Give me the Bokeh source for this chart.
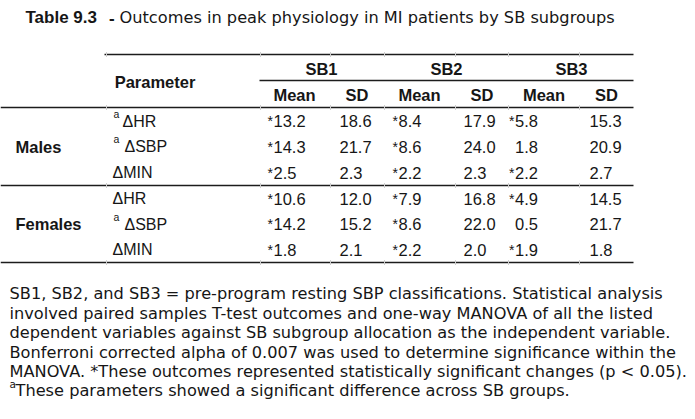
from bokeh.plotting import figure
from bokeh.models import Range1d, ColumnDataSource
from bokeh.core.properties import value
from bokeh.embed import file_html
from bokeh.resources import INLINE

# ---------------- data ----------------
title_bold = "Table 9.3"
title_dash = "-"
title_rest = "Outcomes in peak physiology in MI patients by SB subgroups"
param_header = "Parameter"
sb_headers = ["SB1", "SB2", "SB3"]
stat_headers = ["Mean", "SD"]
groups = ["Males", "Females"]
params = ["\u0394HR", "\u0394SBP", "\u0394MIN", "\u0394HR", "\u0394SBP", "\u0394MIN"]
param_sup = ["a", "a", "", "", "a", ""]
sb1_mean = ["*13.2", "*14.3", "*2.5", "*10.6", "*14.2", "*1.8"]
sb1_sd = ["18.6", "21.7", "2.3", "12.0", "15.2", "2.1"]
sb2_mean = ["*8.4", "*8.6", "*2.2", "*7.9", "*8.6", "*2.2"]
sb2_sd = ["17.9", "24.0", "2.3", "16.8", "22.0", "2.0"]
sb3_mean = ["*5.8", "1.8", "*2.2", "*4.9", "0.5", "*1.9"]
sb3_sd = ["15.3", "20.9", "2.7", "14.5", "21.7", "1.8"]
footnote_lines = [
    "SB1, SB2, and SB3 = pre-program resting SBP classifications. Statistical analysis",
    "involved paired samples T-test outcomes and one-way MANOVA of all the listed",
    "dependent variables against SB subgroup allocation as the independent variable.",
    "Bonferroni corrected alpha of 0.007 was used to determine significance within the",
    "MANOVA. *These outcomes represented statistically significant changes (p < 0.05).",
]
footnote_sup = "a"
footnote_last = "These parameters showed a significant difference across SB groups."

# ---------------- layout ----------------
ARIAL = "Liberation Sans"
WIDE = "DejaVu Sans"
INK = "#161616"
W, H = 695, 419
p = figure(width=W, height=H, x_range=Range1d(0, W), y_range=Range1d(H, 0),
           output_backend="svg", toolbar_location=None, min_border=0,
           x_axis_location=None, y_axis_location=None)
p.grid.visible = False
p.outline_line_color = None
p.background_fill_color = "white"
p.border_fill_color = "white"

YOFF = -5.5


def txt(xs, ys, texts, size, bold=False, align="left", font=ARIAL):
    src = ColumnDataSource(dict(x=list(xs), y=[y + YOFF for y in ys], t=list(texts)))
    p.text(x="x", y="y", text="t", source=src, text_font=value(font),
           text_font_size=f"{size}px", text_font_style="bold" if bold else "normal",
           text_align=align, text_baseline="alphabetic", text_color=INK)


def base(center, size, capr=0.358):
    return center + capr * size

# title
txt([25], [base(17, 16.5)], [title_bold], 17, bold=True)
txt([108.5], [base(17, 16.5)], [title_dash], 17, bold=True)
txt([119], [base(17, 16.2, 0.3645)], [title_rest], 16.2, font=WIDE)

# rules
L = 633
hx0 = [104, 259, 0, 0, 0]
hy = [54, 80, 107, 185, 262]
p.segment(x0=hx0, y0=hy, x1=[L] * 5, y1=hy, line_color="#1c1c1c", line_width=1.4)

# small cell-border ticks
tick_x = [106, 260, 330, 384, 455, 508, 579]
tx, ty0, ty1 = [], [], []
for yy in [54, 107, 185, 262]:
    for xx in tick_x:
        tx.append(xx); ty0.append(yy - 2.5); ty1.append(yy + 2.5)
p.segment(x0=tx, y0=ty0, x1=tx, y1=ty1, line_color="#cfcfcf", line_width=1)

# header
HS = 16.5
txt([154.5], [base(81, HS)], [param_header], HS, bold=True, align="center")
txt([321, 446, 571], [base(68, HS)] * 3, sb_headers, HS, bold=True, align="center")
txt([294, 356.5, 419, 481.5, 543.5, 606], [base(94, HS)] * 6,
    stat_headers * 3, HS, bold=True, align="center")

# group labels
txt([15, 15], [base(146, HS), base(223, HS)], groups, HS, bold=True)

# rows
DS = 16.5
PS = 16
rows = [120.5, 146, 172, 198, 223.5, 249]
px = []
for i, s in enumerate(param_sup):
    if s:
        px.append(124 if params[i] == "\u0394SBP" else 122)
    else:
        px.append(112)
txt(px, [base(r, PS) for r in rows], params, PS)
sx = [113 for s in param_sup if s]
sy = [r - 2 for r, s in zip(rows, param_sup) if s]
txt(sx, sy, [s for s in param_sup if s], 10.5)

STAR_W = 5.5
for col_x, vals in [(267.5, sb1_mean), (392.5, sb2_mean), (509, sb3_mean)]:
    nums = [v.lstrip("*") for v in vals]
    txt([col_x + STAR_W] * 6, [base(r, DS) for r in rows], nums, DS)
    st_y = [base(r, DS) for r, v in zip(rows, vals) if v.startswith("*")]
    txt([col_x - 0.5] * len(st_y), st_y, ["*"] * len(st_y), 14)
for col_x, vals in [(339, sb1_sd), (463, sb2_sd), (589, sb3_sd)]:
    txt([col_x] * 6, [base(r, DS) for r in rows], vals, DS)

# footnote
FS = 16.2
fy = [293 + 19.4 * i for i in range(6)]
txt([9] * 5, [base(y, FS, 0.3645) for y in fy[:5]], footnote_lines, FS, font=WIDE)
txt([9], [base(fy[5], FS, 0.3645) - 6.5], [footnote_sup], 10.5, font=WIDE)
txt([15], [base(fy[5], FS, 0.3645)], [footnote_last], FS, font=WIDE)

open("out.html", "w").write(file_html(p, INLINE))
